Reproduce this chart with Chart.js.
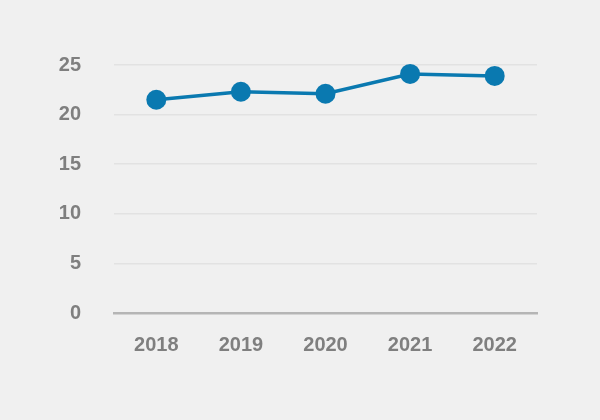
<!DOCTYPE html>
<html>
<head>
<meta charset="utf-8">
<script src="https://cdn.jsdelivr.net/npm/chart.js@4"></script>
<style>
    html, body { margin: 0; padding: 0; background: #f0f0f0; }
    #wrap { width: 600px; height: 420px; }
</style>
</head>
<body>
<div id="wrap"><canvas id="chart" width="600" height="420"></canvas></div>
<script>
// Chart values
const years = ['2018', '2019', '2020', '2021', '2022'];
const values = [21.5, 22.3, 22.1, 24.1, 23.9];
const yTicks = [0, 5, 10, 15, 20, 25];

const lineColor = '#0a79b0';
const textColor = '#7f7f7f';
const tickFont = { family: "'Arial Narrow', 'Liberation Sans', sans-serif", size: 20, weight: 'bold' };

const ctx = document.getElementById('chart').getContext('2d');
new Chart(ctx, {
    type: 'line',
    data: {
        labels: years,
        datasets: [{
            data: values,
            borderColor: lineColor,
            backgroundColor: lineColor,
            borderWidth: 3.5,
            pointRadius: 10,
            pointBackgroundColor: lineColor,
            pointBorderWidth: 0,
            tension: 0,
            fill: false,
            clip: false
        }]
    },
    options: {
        responsive: false,
        animation: false,
        layout: {
            padding: { top: 65, right: 63, left: 0, bottom: 0 }
        },
        plugins: {
            legend: { display: false },
            tooltip: { enabled: false }
        },
        scales: {
            x: {
                offset: true,
                grid: { display: false },
                border: { color: '#b5b5b5', width: 2.5 },
                ticks: {
                    color: textColor,
                    padding: 12,
                    font: tickFont
                },
                afterFit: function(scale) { scale.height = 107; }
            },
            y: {
                min: 0,
                max: 25,
                afterBuildTicks: function(scale) {
                    scale.ticks = yTicks.map(v => ({ value: v }));
                },
                grid: { color: '#e2e2e2', lineWidth: 1.5, drawTicks: false },
                border: { display: false },
                ticks: {
                    color: textColor,
                    padding: 33,
                    font: tickFont
                },
                afterFit: function(scale) { scale.width = 114; }
            }
        }
    }
});
</script>
</body>
</html>
